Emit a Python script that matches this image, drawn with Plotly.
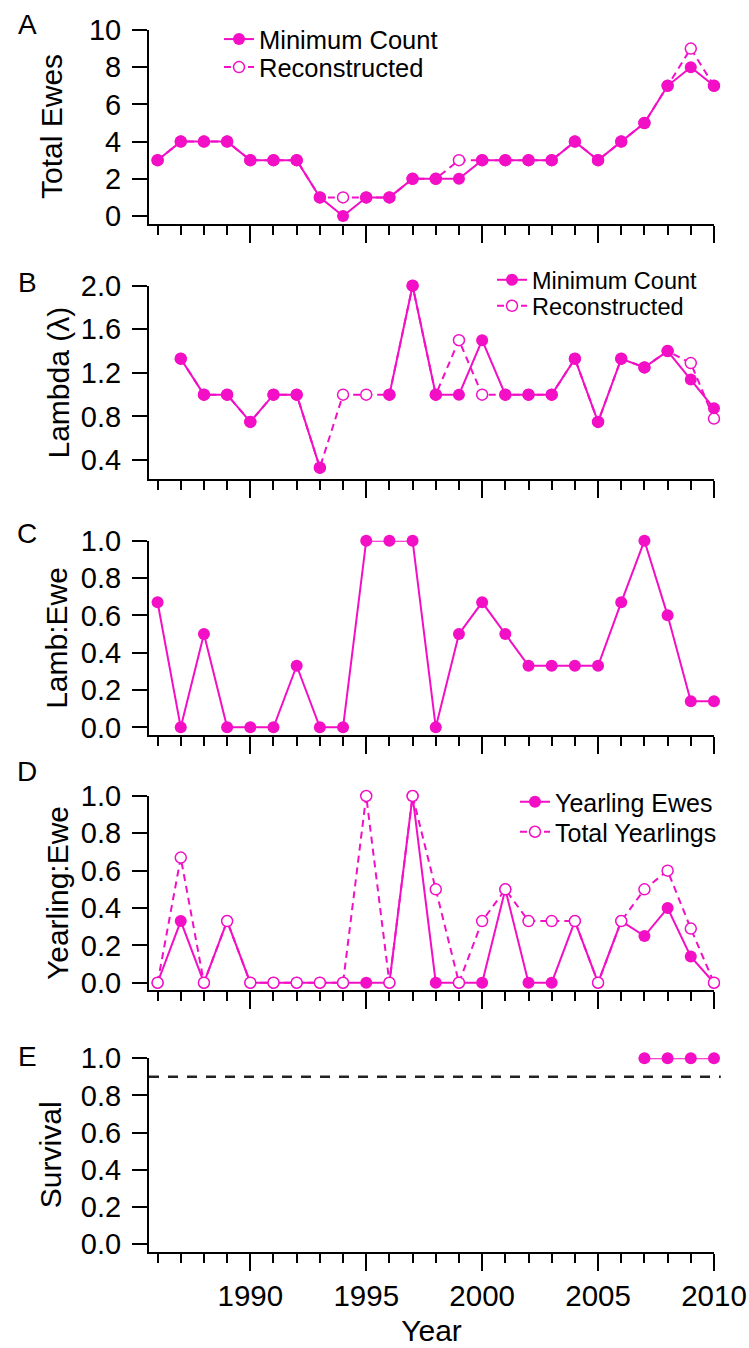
import plotly.graph_objects as go

# ---- data ----
years = list(range(1986, 2011))

ewes_min = [3, 4, 4, 4, 3, 3, 3, 1, 0, 1, 1, 2, 2, 2, 3, 3, 3, 3, 4, 3, 4, 5, 7, 8, 7]
ewes_rec = [3, 4, 4, 4, 3, 3, 3, 1, 1, 1, 1, 2, 2, 3, 3, 3, 3, 3, 4, 3, 4, 5, 7, 9, 7]

lambda_min = [None, 1.33, 1.0, 1.0, 0.75, 1.0, 1.0, 0.33, None, None, 1.0, 2.0, 1.0,
              1.0, 1.5, 1.0, 1.0, 1.0, 1.33, 0.75, 1.33, 1.25, 1.4, 1.14, 0.875]
lambda_rec = [None, 1.33, 1.0, 1.0, 0.75, 1.0, 1.0, 0.33, 1.0, 1.0, 1.0, 2.0, 1.0,
              1.5, 1.0, 1.0, 1.0, 1.0, 1.33, 0.75, 1.33, 1.25, 1.4, 1.29, 0.78]

lamb_ewe = [0.67, 0, 0.5, 0, 0, 0, 0.33, 0, 0, 1.0, 1.0, 1.0, 0, 0.5, 0.67, 0.5,
            0.33, 0.33, 0.33, 0.33, 0.67, 1.0, 0.6, 0.14, 0.14]

yearling_ewes = [0, 0.33, 0, 0.33, 0, 0, 0, 0, 0, 0, 0, 1.0, 0, 0, 0, 0.5,
                 0, 0, 0.33, 0, 0.33, 0.25, 0.4, 0.14, 0]
total_yearlings = [0, 0.67, 0, 0.33, 0, 0, 0, 0, 0, 1.0, 0, 1.0, 0.5, 0, 0.33, 0.5,
                   0.33, 0.33, 0.33, 0, 0.33, 0.5, 0.6, 0.29, 0]

survival_years = [2007, 2008, 2009, 2010]
survival = [1.0, 1.0, 1.0, 1.0]
survival_target = 0.9

y_titles = ['Total Ewes', 'Lambda (λ)', 'Lamb:Ewe', 'Yearling:Ewe', 'Survival']
panel_letters = ['A', 'B', 'C', 'D', 'E']

# ---- layout helpers (pixel -> paper) ----
W, H = 749, 1348
ml, mr, mt, mb = 149, 35, 20, 60
pw, ph = W - ml - mr, H - mt - mb


def py(Y):
    return (H - mb - Y) / ph


def px(X):
    return (X - ml) / pw


pink = '#f20fc6'
font = 'Liberation Sans, Arial, sans-serif'

fig = go.Figure()


def line(n, x, y, name, filled, legend=None):
    fig.add_trace(go.Scatter(
        x=x, y=y, name=name, mode='lines+markers',
        xaxis='x' if n == 1 else 'x%d' % n,
        yaxis='y' if n == 1 else 'y%d' % n,
        line=dict(color=pink, width=2, dash='solid' if filled else '7px,5px'),
        marker=dict(size=12 if filled else 11, color=pink if filled else 'white',
                    line=dict(color=pink, width=0 if filled else 1.5)),
        connectgaps=False, cliponaxis=False,
        showlegend=legend is not None, legend=legend or 'legend',
    ))


# A
line(1, years, ewes_rec, 'Reconstructed', False, 'legend2')
line(1, years, ewes_min, 'Minimum Count', True, 'legend')
# B
line(2, years, lambda_rec, 'Reconstructed', False, 'legend4')
line(2, years, lambda_min, 'Minimum Count', True, 'legend3')
# C
line(3, years, lamb_ewe, 'Lamb:Ewe', True)
# D
line(4, years, yearling_ewes, 'Yearling Ewes', True, 'legend5')
line(4, years, total_yearlings, 'Total Yearlings', False, 'legend6')
# E
line(5, survival_years, survival, 'Survival', True)

panel_px = [(30, 224), (285.7, 479.3), (540.7, 735), (796, 990), (1058.3, 1252)]
y_ranges = [[-0.43, 10], [0.223, 2.0], [-0.041, 1.0], [-0.039, 1.0], [-0.043, 1.0]]
y_ticks = [[0, 2, 4, 6, 8, 10], [0.4, 0.8, 1.2, 1.6, 2.0],
           [0, 0.2, 0.4, 0.6, 0.8, 1.0], [0, 0.2, 0.4, 0.6, 0.8, 1.0],
           [0, 0.2, 0.4, 0.6, 0.8, 1.0]]
title_x = [51, 58, 57, 58, 50]
letter_y = [25, 282, 533, 771, 1056]

layout = dict(
    width=W, height=H, margin=dict(l=ml, r=mr, t=mt, b=mb),
    paper_bgcolor='white', plot_bgcolor='white',
    font=dict(family=font, size=28, color='black'),
    annotations=[],
    shapes=[],
)

for i in range(5):
    n = i + 1
    sx = '' if n == 1 else str(n)
    top, bot = panel_px[i]
    layout['xaxis' + sx] = dict(
        domain=[0, 1], anchor='y' + sx, range=[1985.63, 2010.001],
        showline=True, linewidth=2, linecolor='black',
        ticks='outside', ticklen=17, tickwidth=2, tickcolor='black',
        tick0=1990, dtick=5,
        minor=dict(ticks='outside', dtick=1, tick0=1990, ticklen=9, tickwidth=2, tickcolor='black'),
        showgrid=False, zeroline=False, showticklabels=(n == 5),
        tickfont=dict(size=29.5), automargin=False,
    )
    layout['yaxis' + sx] = dict(
        domain=[py(bot), py(top)], anchor='x' + sx, range=y_ranges[i],
        tickmode='array', tickvals=y_ticks[i],
        tickformat='d' if n == 1 else '.1f',
        showline=True, linewidth=2, linecolor='black',
        ticks='outside', ticklen=15, tickwidth=2, tickcolor='black',
        ticklabelstandoff=5,
        showgrid=False, zeroline=False, tickfont=dict(size=29), automargin=False,
    )
    layout['annotations'].append(dict(
        text=y_titles[i], textangle=-90, xref='paper', yref='paper',
        x=px(title_x[i]), y=py((top + bot) / 2), xanchor='center', yanchor='middle',
        showarrow=False, font=dict(size=30),
    ))
    layout['annotations'].append(dict(
        text=panel_letters[i], xref='paper', yref='paper',
        x=px(27), y=py(letter_y[i]), xanchor='center', yanchor='middle',
        showarrow=False, font=dict(size=28),
    ))

layout['xaxis5']['title'] = dict(text='Year', font=dict(size=30), standoff=9)

layout['shapes'].append(dict(
    type='line', xref='x5 domain', yref='y5', x0=0, x1=1.012,
    y0=survival_target, y1=survival_target,
    line=dict(color='#222222', width=2.5, dash='10px,9px'),
))

# one legend per entry so the row spacing can follow the reference
leg = dict(bgcolor='rgba(0,0,0,0)', xanchor='left', yanchor='top', itemsizing='trace')
legend_px = {'legend': (219, 16, 25.5), 'legend2': (219, 44, 25.5),
             'legend3': (492, 258, 23.5), 'legend4': (492, 284, 23.5),
             'legend5': (515, 779, 25), 'legend6': (515, 809, 25)}
for key, (lx, ly, fs) in legend_px.items():
    layout[key] = dict(leg, x=px(lx), y=py(ly), font=dict(size=fs))

fig.update_layout(**layout)
fig.write_html("out.html", config={'displayModeBar': False},
               post_script="document.body.style.margin='0';document.body.style.overflow='hidden';")
